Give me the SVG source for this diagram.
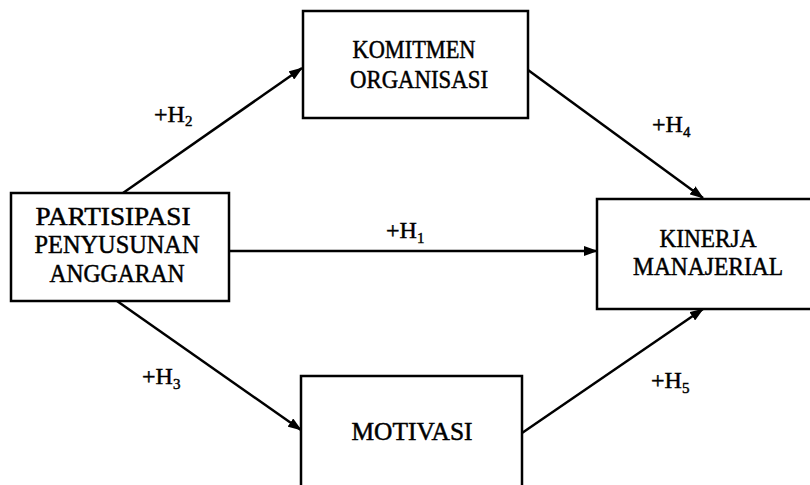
<svg xmlns="http://www.w3.org/2000/svg" width="810" height="485" viewBox="0 0 810 485">
<style>
.box{fill:#fff;stroke:#000;stroke-width:2.5}
.lbl{font-family:"Liberation Serif","Times New Roman",serif;font-size:26px;fill:#000;stroke:#000;stroke-width:0.5;text-anchor:middle}
.hyp{font-family:"Liberation Serif","Times New Roman",serif;font-size:24px;fill:#000;stroke:#000;stroke-width:0.45}
.sub{font-size:15px}
.conn{fill:none;stroke:#000;stroke-width:2.5}
</style>
<defs>
<marker id="ah" markerUnits="userSpaceOnUse" markerWidth="14" markerHeight="10" refX="13" refY="5" orient="auto">
<path d="M0,0 L14,5 L0,10 z" fill="#000"/>
</marker>
</defs>
<rect width="810" height="485" fill="#fff"/>
<g id="connectors">
<path class="conn" d="M123,193 L302,68" marker-end="url(#ah)"/>
<path class="conn" d="M528,70 L703,198" marker-end="url(#ah)"/>
<path class="conn" d="M229,251 L597,251" marker-end="url(#ah)"/>
<path class="conn" d="M117,301 L301,430" marker-end="url(#ah)"/>
<path class="conn" d="M522,433 L703,309" marker-end="url(#ah)"/>
<text class="hyp" x="154" y="122">+H<tspan class="sub" dy="4">2</tspan></text>
<text class="hyp" x="652" y="132">+H<tspan class="sub" dy="5">4</tspan></text>
<text class="hyp" x="386" y="238">+H<tspan class="sub" dy="5">1</tspan></text>
<text class="hyp" x="142" y="384">+H<tspan class="sub" dy="5">3</tspan></text>
<text class="hyp" x="651" y="388">+H<tspan class="sub" dy="5">5</tspan></text>
</g>
<g id="partisipasi">
<rect class="box" x="11" y="193" width="218" height="108"/>
<text class="lbl" x="113" y="225" textLength="155" lengthAdjust="spacingAndGlyphs">PARTISIPASI</text>
<text class="lbl" x="117" y="253" textLength="165" lengthAdjust="spacingAndGlyphs">PENYUSUNAN</text>
<text class="lbl" x="117" y="282" textLength="135" lengthAdjust="spacingAndGlyphs">ANGGARAN</text>
</g>
<g id="komitmen">
<rect class="box" x="303" y="11" width="225" height="107"/>
<text class="lbl" x="414" y="58" textLength="123" lengthAdjust="spacingAndGlyphs">KOMITMEN</text>
<text class="lbl" x="419" y="88" textLength="138" lengthAdjust="spacingAndGlyphs">ORGANISASI</text>
</g>
<g id="kinerja">
<rect class="box" x="597" y="199" width="225" height="110"/>
<text class="lbl" x="708" y="247" textLength="97" lengthAdjust="spacingAndGlyphs">KINERJA</text>
<text class="lbl" x="708" y="275" textLength="150" lengthAdjust="spacingAndGlyphs">MANAJERIAL</text>
</g>
<g id="motivasi">
<rect class="box" x="301" y="376" width="221" height="130"/>
<text class="lbl" x="412" y="440" textLength="121" lengthAdjust="spacingAndGlyphs">MOTIVASI</text>
</g>
</svg>
